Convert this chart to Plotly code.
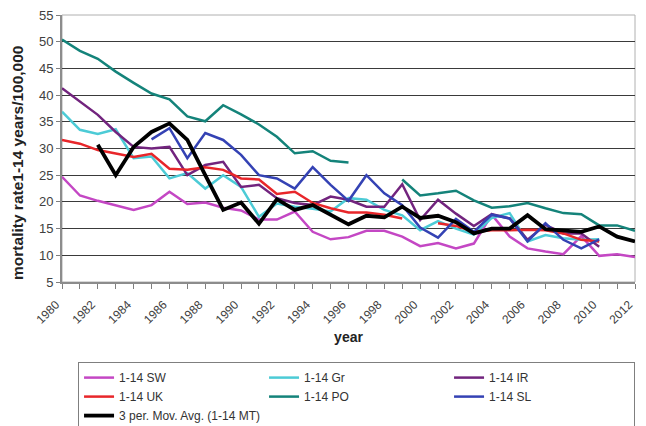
import plotly.graph_objects as go

years = list(range(1980, 2013))

sw = [24.7, 21.2, 20.2, 19.3, 18.5, 19.4, 21.9, 19.6, 19.9, 18.9, 18.4, 16.7, 16.7, 18.2, 14.4, 13.0,
      13.4, 14.6, 14.6, 13.5, 11.7, 12.3, 11.3, 12.2, 17.6, 13.5, 11.3, 10.7, 10.2, 13.6, 9.9, 10.2, 9.7]
gr = [36.9, 33.5, 32.7, 33.6, 28.2, 28.5, 24.4, 25.4, 22.5, 25.0, 22.8, 17.2, 19.7, 19.1, 18.7, 18.2,
      20.7, 20.4, 18.5, 17.5, 14.7, 16.4, 15.0, 13.9, 17.0, 17.9, 12.6, 13.8, 13.2, 12.9, 13.0, None, None]
ir = [41.3, 38.8, 36.3, 33.1, 30.3, 30.0, 30.3, 25.0, 26.9, 27.5, 22.8, 23.2, 20.7, 19.8, 19.4, 21.0,
      20.4, 19.1, 19.1, 23.3, 16.6, 20.4, 17.8, 15.5, 17.7, 16.9, 12.9, 15.7, 14.1, 14.1, 11.6, None, None]
uk = [31.6, 30.9, 29.7, 29.1, 28.4, 29.0, 26.2, 26.0, 26.5, 26.0, 24.4, 24.2, 21.5, 21.9, 19.8, 18.8,
      18.0, 18.0, 17.6, 16.9, None, 16.0, 15.5, 14.4, 14.7, 14.7, 14.8, 14.7, 14.1, 12.9, 12.6, None, None]
po = [50.4, 48.3, 46.8, 44.4, 42.3, 40.3, 39.2, 36.0, 35.1, 38.1, 36.4, 34.5, 32.2, 29.1, 29.5, 27.7,
      27.4, None, None, 24.2, 21.2, 21.6, 22.1, 20.3, 18.9, 19.2, 19.8, 18.8, 17.9, 17.7, 15.6, 15.6, 14.6]
sl = [None, None, None, None, None, 31.7, 33.8, 28.2, 32.9, 31.6, 28.8, 25.0, 24.4, 22.5, 26.5, 23.2,
      20.2, 25.0, 21.6, 19.4, 15.2, 13.3, 16.8, 14.4, 17.6, 16.9, 12.6, 16.0, 12.9, 11.3, 13.0, None, None]
mt_avg = [None, None, 30.7, 25.0, 30.3, 33.1, 34.7, 31.6, 25.0, 18.5, 19.9, 15.9, 20.5, 18.5, 19.4, 17.5,
          15.8, 17.4, 17.1, 19.1, 17.0, 17.4, 16.2, 14.1, 15.0, 15.0, 17.5, 14.9, 14.7, 14.4, 15.4, 13.5, 12.6]

series = [
    ("1-14 SW", sw, "#c447c4", 2.5),
    ("1-14 Gr", gr, "#4ccbd6", 2.5),
    ("1-14 IR", ir, "#72247e", 2.5),
    ("1-14 UK", uk, "#e8262a", 2.5),
    ("1-14 PO", po, "#14837a", 2.5),
    ("1-14 SL", sl, "#3442b4", 2.5),
    ("3 per. Mov. Avg. (1-14 MT)", mt_avg, "#000000", 3.8),
]

fig = go.Figure()
for name, vals, color, w in series:
    fig.add_trace(go.Scatter(x=years, y=vals, name=name, mode="lines",
                             line=dict(color=color, width=w), connectgaps=False))

# The page body adds an 8px offset, so the figure is sized to fit the 646x426 window.
font_main = "Liberation Sans, Arial, sans-serif"
fig.update_layout(
    width=638, height=418,
    margin=dict(l=54, r=11, t=7, b=144, autoexpand=False),
    paper_bgcolor="white", plot_bgcolor="white",
    font=dict(family=font_main, size=12, color="#404040"),
    showlegend=True,
    legend=dict(orientation="h", x=0.028, y=-0.30, xanchor="left", yanchor="top",
                bordercolor="#7f7f7f", borderwidth=1, entrywidth=140, entrywidthmode="pixels",
                font=dict(size=12, color="#333333"), traceorder="normal"),
    xaxis=dict(range=[1980, 2012], tickmode="array", tickvals=list(range(1980, 2013, 2)),
               ticktext=[str(y) for y in range(1980, 2013, 2)], tickangle=-45,
               ticks="outside", ticklen=5, tickcolor="#7f7f7f", tickwidth=1,
               ticklabelstandoff=4, ticklabelshift=-6, automargin=False, ticklabeloverflow="allow",
               minor=dict(dtick=1, tick0=1980, ticks="outside", ticklen=5, tickcolor="#7f7f7f", showgrid=False),
               showgrid=False, showline=True, linecolor="#8c8c8c", linewidth=2, mirror=False,
               tickfont=dict(size=12, color="#404040"),
               title=dict(text="<b>year</b>", font=dict(size=14, color="#222222"), standoff=7)),
    yaxis=dict(range=[5, 55], dtick=5, tick0=5, showgrid=True, gridcolor="#3a3a3a", gridwidth=1,
               ticks="outside", ticklen=4, tickcolor="#7f7f7f", automargin=False, ticklabeloverflow="allow",
               showline=True, linecolor="#8c8c8c", linewidth=2, zeroline=False,
               tickfont=dict(size=13, color="#404040")),
    annotations=[dict(text="<b>mortality rate1-14 years/100,000</b>", textangle=-90,
                      xref="paper", yref="paper", x=-0.0768, y=0.446, xanchor="center", yanchor="middle",
                      showarrow=False, font=dict(size=15.5, color="#222222"))],
    shapes=[dict(type="rect", xref="paper", yref="paper", x0=0, y0=0, x1=1, y1=1,
                 line=dict(color="#b0b0b0", width=1), fillcolor="rgba(0,0,0,0)", layer="below")],
)

fig.write_html("out.html")
